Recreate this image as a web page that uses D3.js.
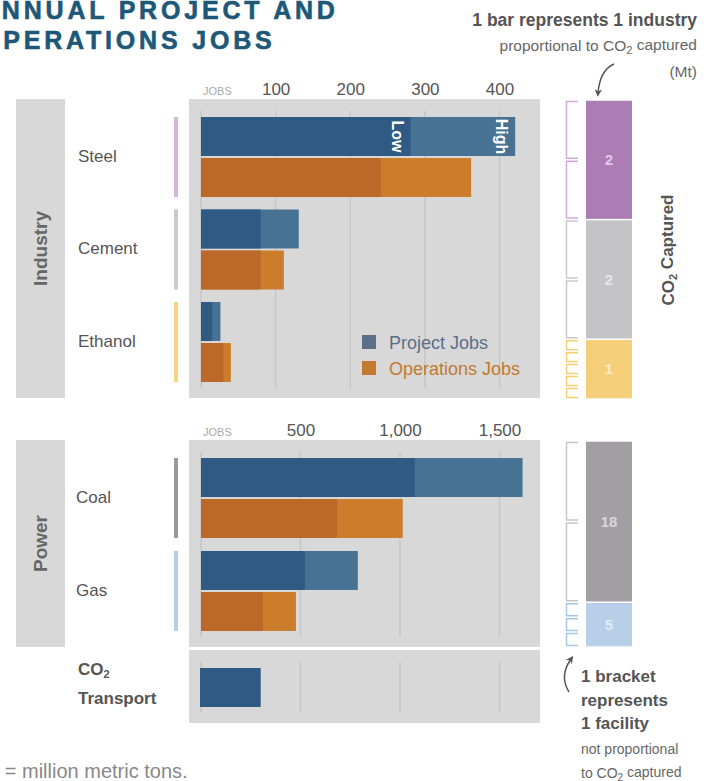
<!DOCTYPE html>
<html>
<head>
<meta charset="utf-8">
<script src="https://cdn.jsdelivr.net/npm/d3@7"></script>
<style>
  body { margin: 0; background: #fff; }
  svg text { font-family: "Liberation Sans", Arial, Helvetica, sans-serif; }
</style>
</head>
<body>
<div id="chart"></div>
<script>
// ---- data ----
const industryCats = ["Steel", "Cement", "Ethanol"];
const industryProjectLow = [281, 80, 15];
const industryProjectHigh = [421, 131, 26];
const industryOpsLow = [241, 80, 30];
const industryOpsHigh = [362, 111, 40];
const industryTicks = [100, 200, 300, 400];
const industryCO2 = [2, 2, 1];          // Mt captured
const industryFacilities = [2, 2, 5];

const powerCats = ["Coal", "Gas"];
const powerProjectLow = [1074, 522];
const powerProjectHigh = [1616, 788];
const powerOpsLow = [683, 311];
const powerOpsHigh = [1014, 477];
const powerTicks = [500, 1000, 1500];
const powerCO2 = [18, 5];
const powerFacilities = [2, 3];

const transportProject = [300];

// ---- styles ----
const GREY_BG = "#d8d8d8";
const GRID = "#c6c6c6";
const PROJ_LOW = "#2f5a84", PROJ_HIGH = "#477294";
const OPS_LOW = "#bb6828", OPS_HIGH = "#cc7d2c";
const industryFill = ["#ac7db4", "#c4c3c7", "#f5cf7a"];
const industryLine = ["#d6b3dc", "#c8c7cb", "#f6d27c"];
const industryBracket = ["#d2aad8", "#c9c9c9", "#f5cf70"];
const powerFill = ["#a39ea3", "#b7cfe9"];
const powerLine = ["#9b999c", "#b5cdea"];
const powerBracket = ["#c6c6c6", "#a9c5e6"];

const width = 716, height = 781;

const svg = d3.select("#chart")
  .append("svg")
    .attr("width", width)
    .attr("height", height)
    .attr("viewBox", `0 0 ${width} ${height}`);

svg.append("defs").append("marker")
    .attr("id", "arrow")
    .attr("viewBox", "0 0 10 10")
    .attr("refX", 5).attr("refY", 5)
    .attr("markerWidth", 5).attr("markerHeight", 5)
    .attr("orient", "auto")
  .append("path")
    .attr("d", "M0,0 L10,5 L0,10 L3,5 z")
    .attr("fill", "#555");

// text with a subscript 2 in "CO2"
const co2Text = (sel, before, after, small) => {
  sel.append("tspan").text(before + "CO");
  sel.append("tspan").attr("font-size", small).attr("dy", "0.25em").text("2");
  sel.append("tspan").attr("dy", "-0.25em").text(after);
};

// ---- title (left edge is cropped, as in the source) ----
const title = svg.append("text")
  .attr("fill", "#1d5878")
  .attr("stroke", "#1d5878")
  .attr("stroke-width", 0.6)
  .attr("font-size", 25)
  .attr("font-weight", "bold")
  .attr("letter-spacing", 3.8);
title.append("tspan").attr("x", -20).attr("y", 19).text("ANNUAL PROJECT AND");
title.append("tspan").attr("x", -20).attr("y", 49).text("OPERATIONS JOBS");

// ---- one section (industry / power) ----
const drawSection = (cfg) => {
  const g = svg.append("g");
  const x = d3.scaleLinear().domain(cfg.domain).range([201, 499.5]);

  // backgrounds
  g.append("rect").attr("x", 16).attr("y", cfg.top).attr("width", 49)
    .attr("height", cfg.bottom - cfg.top).attr("fill", GREY_BG);
  g.append("rect").attr("x", 189).attr("y", cfg.top).attr("width", 351)
    .attr("height", cfg.bottom - cfg.top).attr("fill", GREY_BG);

  g.append("text")
    .attr("transform", `translate(40, ${(cfg.top + cfg.bottom) / 2}) rotate(-90)`)
    .attr("text-anchor", "middle")
    .attr("dy", "0.35em")
    .attr("font-size", 19).attr("font-weight", "bold").attr("fill", "#666")
    .text(cfg.name);

  // tick labels
  const axis = d3.axisTop(x).tickValues(cfg.ticks).tickSize(0).tickPadding(0)
    .tickFormat(d3.format(",.0f"));
  const ax = g.append("g").attr("transform", `translate(0, ${cfg.top - 4})`).call(axis);
  ax.select(".domain").remove();
  ax.selectAll("text").attr("font-size", 17).attr("fill", "#555")
    .attr("font-family", null).attr("dy", 0);
  g.append("text").attr("x", 203).attr("y", cfg.top - 4)
    .attr("font-size", 11).attr("fill", "#aaa").text("JOBS");

  // grid
  g.selectAll(".grid").data([0].concat(cfg.ticks)).enter().append("line")
    .attr("x1", d => x(d)).attr("x2", d => x(d))
    .attr("y1", cfg.gridTop).attr("y2", cfg.gridBottom)
    .attr("stroke", GRID).attr("stroke-width", 1.5);

  // bands
  const y = d3.scaleBand().domain(cfg.cats).range([cfg.gridTop, cfg.gridBottom])
    .paddingInner(cfg.padInner).paddingOuter(cfg.padOuter);
  const yInner = d3.scaleBand().domain(["project", "ops"]).range([0, y.bandwidth()])
    .paddingInner(0.05);
  const bh = yInner.bandwidth();

  const rows = cfg.cats.map((c, i) => ({
    cat: c,
    bars: [
      {type: "project", low: cfg.projLow[i], high: cfg.projHigh[i], cLow: PROJ_LOW, cHigh: PROJ_HIGH},
      {type: "ops", low: cfg.opsLow[i], high: cfg.opsHigh[i], cLow: OPS_LOW, cHigh: OPS_HIGH}
    ]
  }));

  rows.forEach((r, i) => {
    const yc = y(r.cat) + y.bandwidth() / 2;
    g.append("text").attr("x", cfg.labelX).attr("y", yc - 1).attr("dy", "0.35em")
      .attr("font-size", 17).attr("fill", "#555").text(r.cat);
    g.append("rect").attr("x", 174).attr("y", y(r.cat)).attr("width", 4)
      .attr("height", y.bandwidth()).attr("fill", cfg.lineColours[i]);

    r.bars.forEach(b => {
      const by = y(r.cat) + yInner(b.type);
      g.append("rect").attr("x", x(0)).attr("y", by)
        .attr("width", x(b.high) - x(0)).attr("height", bh).attr("fill", b.cHigh);
      g.append("rect").attr("x", x(0)).attr("y", by)
        .attr("width", x(b.low) - x(0)).attr("height", bh).attr("fill", b.cLow);
    });
  });

  // stacked CO2 bar on the right
  const yS = d3.scaleLinear().domain([0, d3.sum(cfg.co2)]).range([cfg.stackTop, cfg.stackBottom]);
  let acc = 0;
  cfg.co2.forEach((v, i) => {
    const y0 = yS(acc), y1 = yS(acc + v);
    acc += v;
    g.append("rect").attr("x", 586).attr("y", y0 + 0.75).attr("width", 46)
      .attr("height", y1 - y0 - 1.5).attr("fill", cfg.fills[i]);
    g.append("text").attr("x", 609).attr("y", (y0 + y1) / 2).attr("dy", "0.35em")
      .attr("text-anchor", "middle").attr("font-size", 15).attr("font-weight", "bold")
      .attr("fill", "#fff").attr("fill-opacity", 0.6).text(v);
    const n = cfg.facilities[i], slot = (y1 - y0) / n;
    d3.range(n).forEach(k => {
      const a = y0 + k * slot + 1.5, b = y0 + (k + 1) * slot - 1.5;
      g.append("path")
        .attr("d", `M578,${a} H566.5 V${b} H578`)
        .attr("fill", "none").attr("stroke", cfg.brackets[i]).attr("stroke-width", 1.5);
    });
  });

  return {g, x, y, yInner};
};

// ---- industry ----
const ind = drawSection({
  name: "Industry", top: 99, bottom: 398, gridTop: 111, gridBottom: 388,
  domain: [0, 400], ticks: industryTicks, cats: industryCats,
  padInner: 0.135, padOuter: 0.065, labelX: 78,
  projLow: industryProjectLow, projHigh: industryProjectHigh,
  opsLow: industryOpsLow, opsHigh: industryOpsHigh,
  lineColours: industryLine, co2: industryCO2, facilities: industryFacilities,
  fills: industryFill, brackets: industryBracket, stackTop: 100, stackBottom: 399
});

// Low / High labels on the steel project bar
const steelY = ind.y("Steel") + ind.yInner("project") + ind.yInner.bandwidth() / 2;
[["Low", industryProjectLow[0]], ["High", industryProjectHigh[0]]].forEach(([t, v]) => {
  ind.g.append("text")
    .attr("transform", `translate(${ind.x(v) - 19}, ${steelY}) rotate(90)`)
    .attr("text-anchor", "middle")
    .attr("font-size", 16).attr("font-weight", "bold").attr("fill", "#fff")
    .text(t);
});

// legend
const legend = [["Project Jobs", "#5b6f8b"], ["Operations Jobs", "#c27a2e"]];
legend.forEach(([t, c], i) => {
  ind.g.append("rect").attr("x", 362).attr("y", 335 + i * 26).attr("width", 14)
    .attr("height", 14).attr("fill", c);
  ind.g.append("text").attr("x", 389).attr("y", 349 + i * 26)
    .attr("font-size", 18).attr("fill", c).text(t);
});

// ---- power ----
const pow = drawSection({
  name: "Power", top: 440, bottom: 647, gridTop: 452, gridBottom: 637,
  domain: [0, 1500], ticks: powerTicks, cats: powerCats,
  padInner: 0.14, padOuter: 0.065, labelX: 76,
  projLow: powerProjectLow, projHigh: powerProjectHigh,
  opsLow: powerOpsLow, opsHigh: powerOpsHigh,
  lineColours: powerLine, co2: powerCO2, facilities: powerFacilities,
  fills: powerFill, brackets: powerBracket, stackTop: 441, stackBottom: 647
});

// ---- CO2 transport ----
const tg = svg.append("g");
tg.append("rect").attr("x", 189).attr("y", 650).attr("width", 351).attr("height", 73)
  .attr("fill", GREY_BG);
tg.selectAll(".grid").data([0].concat(powerTicks)).enter().append("line")
  .attr("x1", d => pow.x(d)).attr("x2", d => pow.x(d))
  .attr("y1", 662).attr("y2", 712)
  .attr("stroke", GRID).attr("stroke-width", 1.5);
tg.selectAll(".bar").data(transportProject).enter().append("rect")
  .attr("x", pow.x(0) - 1).attr("y", 668)
  .attr("width", d => pow.x(d) - pow.x(0) + 1).attr("height", 39)
  .attr("fill", PROJ_LOW);
const tl = tg.append("text").attr("x", 78).attr("y", 675)
  .attr("font-size", 17).attr("font-weight", "bold").attr("fill", "#555");
co2Text(tl, "", "", 11);
tg.append("text").attr("x", 78).attr("y", 704)
  .attr("font-size", 17).attr("font-weight", "bold").attr("fill", "#555").text("Transport");

// ---- annotations ----
const capt = svg.append("text")
  .attr("transform", "translate(674, 250) rotate(-90)")
  .attr("text-anchor", "middle")
  .attr("font-size", 17).attr("font-weight", "bold").attr("fill", "#555");
co2Text(capt, "", " Captured", 11);

svg.append("text").attr("x", 697).attr("y", 26).attr("text-anchor", "end")
  .attr("font-size", 17.5).attr("font-weight", "bold").attr("fill", "#555")
  .text("1 bar represents 1 industry");
const prop = svg.append("text").attr("x", 697).attr("y", 51).attr("text-anchor", "end")
  .attr("font-size", 15.5).attr("fill", "#666");
co2Text(prop, "proportional to ", " captured", 11);
svg.append("text").attr("x", 697).attr("y", 77).attr("text-anchor", "end")
  .attr("font-size", 15.5).attr("fill", "#666").text("(Mt)");

svg.append("path")
  .attr("d", "M614,64 Q600,70 598,93")
  .attr("fill", "none").attr("stroke", "#555").attr("stroke-width", 1.5)
  .attr("marker-end", "url(#arrow)");

svg.append("path")
  .attr("d", "M569,692 Q559,676 571,659")
  .attr("fill", "none").attr("stroke", "#555").attr("stroke-width", 1.5)
  .attr("marker-end", "url(#arrow)");

const noteBold = ["1 bracket", "represents", "1 facility"];
noteBold.forEach((t, i) => {
  svg.append("text").attr("x", 581).attr("y", 682 + i * 23.5)
    .attr("font-size", 17).attr("font-weight", "bold").attr("fill", "#555").text(t);
});
svg.append("text").attr("x", 581).attr("y", 754)
  .attr("font-size", 14).attr("fill", "#666").text("not proportional");
const n2 = svg.append("text").attr("x", 581).attr("y", 778)
  .attr("font-size", 14).attr("fill", "#666");
co2Text(n2, "to ", " captured", 10);

// footnote (left edge cropped, as in the source)
svg.append("text").attr("x", -23).attr("y", 778)
  .attr("font-size", 20).attr("fill", "#888").text("Mt = million metric tons.");
</script>
</body>
</html>
